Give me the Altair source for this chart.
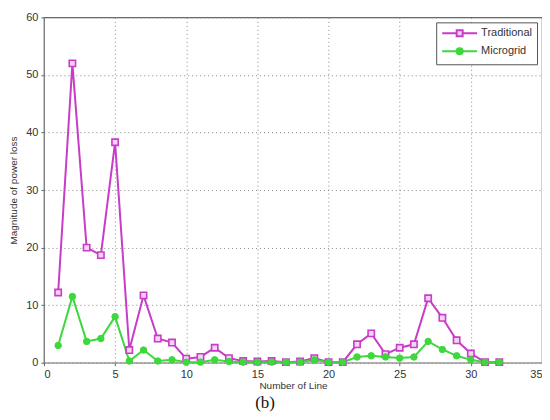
import altair as alt
import pandas as pd

lines = list(range(1, 33))
traditional = [12.2, 52.0, 20.0, 18.7, 38.3, 2.2, 11.7, 4.2, 3.5, 0.7,
               1.0, 2.6, 0.8, 0.3, 0.2, 0.3, 0.1, 0.2, 0.8, 0.1,
               0.1, 3.2, 5.1, 1.5, 2.6, 3.2, 11.2, 7.8, 3.9, 1.6,
               0.1, 0.1]
microgrid = [3.0, 11.5, 3.7, 4.2, 8.0, 0.3, 2.2, 0.3, 0.5, 0.1,
             0.1, 0.5, 0.2, 0.1, 0.1, 0.1, 0.1, 0.1, 0.5, 0.1,
             0.1, 1.0, 1.2, 1.0, 0.8, 1.0, 3.7, 2.3, 1.2, 0.5,
             0.1, 0.1]
series_names = ["Traditional", "Microgrid"]
x_ticks = [0, 5, 10, 15, 20, 25, 30, 35]
y_ticks = [0, 10, 20, 30, 40, 50, 60]

MAG = "#c83cc8"
GRN = "#3cd83c"

df = pd.DataFrame({
    "line": lines * 2,
    "value": traditional + microgrid,
    "series": ["Traditional"] * len(lines) + ["Microgrid"] * len(lines),
})

xenc = alt.X("line:Q", scale=alt.Scale(domain=[0, 35], nice=False),
             axis=alt.Axis(values=x_ticks, title="Number of Line"))
yenc = alt.Y("value:Q", scale=alt.Scale(domain=[0, 60], nice=False),
             axis=alt.Axis(values=y_ticks, title="Magnitude of power loss"))

base = alt.Chart(df).encode(x=xenc, y=yenc)

trad = base.transform_filter(alt.datum.series == "Traditional")
micro = base.transform_filter(alt.datum.series == "Microgrid")

trad_line = trad.mark_line(color=MAG, strokeWidth=2)
trad_pts = trad.mark_point(shape="square", size=40, fill="#f4d4f4", stroke=MAG,
                           strokeWidth=1.6, opacity=1, filled=False)
micro_line = micro.mark_line(color=GRN, strokeWidth=2)
micro_pts = micro.mark_point(shape="circle", size=42, fill=GRN, stroke=GRN,
                             strokeWidth=1, opacity=1, filled=True)

sq_path = "M-1,0 H1.9 M3.1,0 H6 M1.9,-0.6 H3.1 V0.6 H1.9 Z"
ci_path = "M-1,0 H1.9 M3.1,0 H6 M3.1,0 A0.6,0.6 0 1,1 1.9,0 A0.6,0.6 0 1,1 3.1,0 Z"

leg = alt.Legend(title=None, orient="top-right", offset=5,
                 strokeColor="#555", fillColor="white", padding=5,
                 labelFont="Liberation Sans", labelFontSize=11, labelColor="#333",
                 symbolSize=100, symbolStrokeWidth=2, labelOffset=28,
                 rowPadding=3)

legend_layer = alt.Chart(df).transform_filter("false").mark_point(opacity=1).encode(
    x=xenc, y=yenc,
    shape=alt.Shape("series:N", scale=alt.Scale(domain=series_names, range=[sq_path, ci_path]), legend=leg),
    stroke=alt.Stroke("series:N", scale=alt.Scale(domain=series_names, range=[MAG, GRN]), legend=leg),
    fill=alt.Fill("series:N", scale=alt.Scale(domain=series_names, range=["#f4d4f4", GRN]), legend=leg),
)

chart = alt.layer(trad_line, micro_line, trad_pts, micro_pts, legend_layer).properties(
    width=499, height=346,
    autosize=alt.AutoSizeParams(type="none"),
    padding={"left": 36, "top": 9, "right": 0, "bottom": 50},
    title=alt.TitleParams("(b)", orient="bottom", anchor="middle", dx=-28, offset=4,
                          font="Liberation Serif", fontSize=17, fontWeight="normal",
                          color="#111"),
).configure_view(
    stroke="#666", strokeWidth=1.2
).configure_axis(
    grid=True, gridColor="#888", gridDash=[1, 3], gridWidth=1, gridOpacity=1,
    domain=False, ticks=True, tickColor="#666", tickSize=3,
    labelFont="Liberation Sans", labelFontSize=11, labelColor="#333",
    titleFont="Liberation Sans", titleFontSize=10, titleColor="#333",
    titleFontWeight="normal", labelPadding=3,
).configure_axisY(
    titlePadding=7
).configure_axisX(
    titlePadding=1
)

chart.save("out.html", embed_options={"renderer": "svg", "actions": False})
